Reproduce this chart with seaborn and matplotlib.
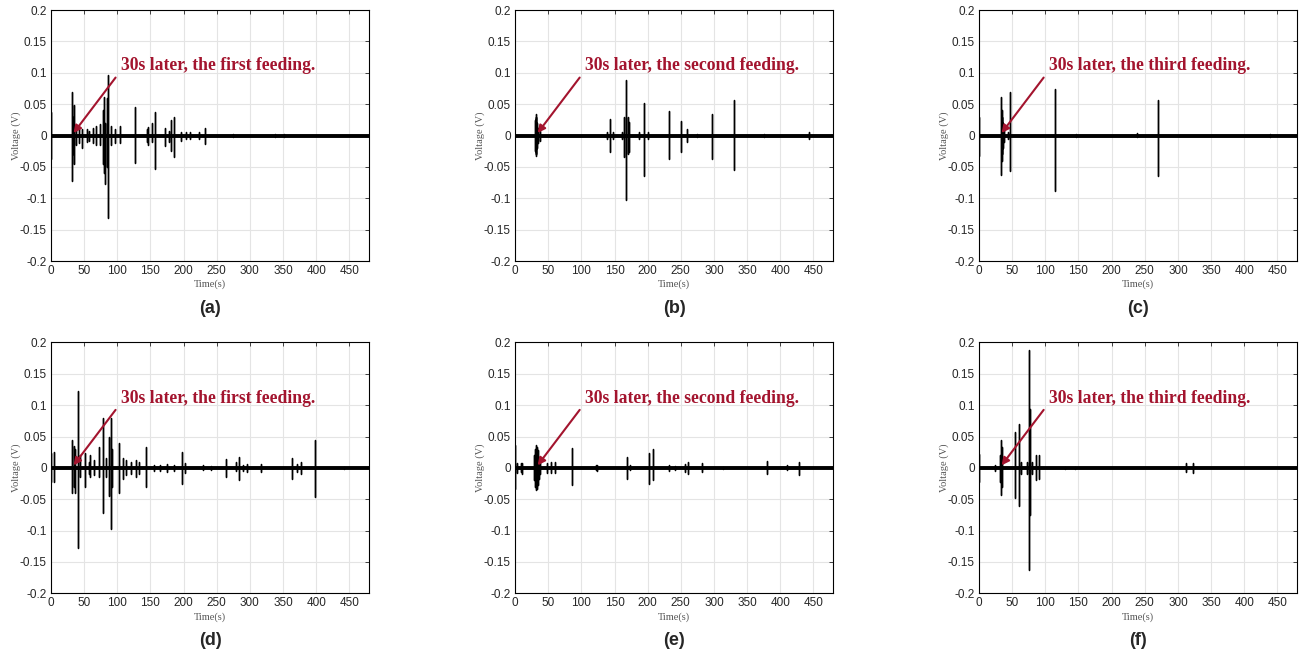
import numpy as np
import pandas as pd
import seaborn as sns
import matplotlib.pyplot as plt

# spike times (s) with peak and trough voltage (V)
t_a = [0, 31.5, 33, 35, 38, 42, 47, 54, 58, 63, 68.5, 73.6, 78, 80, 81.7, 84, 85.8, 90, 96, 103.5,
       127, 144.7, 146.7, 152, 157, 172, 178.7, 181, 186, 195.4, 203, 210, 224, 233, 274, 338, 352]
hi_a = [0.038, 0.069, 0.03, 0.048, 0.012, 0.01, 0.01, 0.01, 0.008, 0.012, 0.015, 0.018, 0.04, 0.062, 0.02, 0.06, 0.097, 0.015, 0.01, 0.015,
        0.045, 0.01, 0.014, 0.02, 0.038, 0.012, 0.008, 0.025, 0.03, 0.006, 0.006, 0.006, 0.005, 0.012, 0.002, 0.002, 0.002]
lo_a = [-0.037, -0.073, -0.03, -0.045, -0.015, -0.012, -0.02, -0.01, -0.008, -0.012, -0.015, -0.015, -0.045, -0.06, -0.078, -0.05, -0.131, -0.015, -0.012, -0.012,
        -0.043, -0.01, -0.015, -0.01, -0.053, -0.017, -0.01, -0.025, -0.034, -0.008, -0.006, -0.006, -0.005, -0.013, -0.002, -0.002, -0.002]

t_b = [30, 31, 32, 33, 35, 37, 138, 142.7, 147, 162, 164.8, 168, 170, 172.4, 187, 195, 200,
       231.7, 251, 260, 274, 296.5, 329.6, 375, 443.7]
hi_b = [0.025, 0.034, 0.03, 0.02, 0.012, 0.008, 0.006, 0.026, 0.005, 0.006, 0.03, 0.089, 0.03, 0.021, 0.006, 0.052, 0.005,
        0.039, 0.023, 0.01, 0.002, 0.035, 0.056, 0.003, 0.005]
lo_b = [-0.025, -0.032, -0.03, -0.02, -0.012, -0.008, -0.006, -0.027, -0.005, -0.006, -0.034, -0.103, -0.03, -0.026, -0.006, -0.065, -0.005,
        -0.038, -0.026, -0.01, -0.002, -0.038, -0.055, -0.003, -0.005]

t_c = [0, 32.7, 34, 35, 36, 38, 43, 47, 114.6, 147, 237.7, 270, 438.2]
hi_c = [0.03, 0.061, 0.04, 0.03, 0.02, 0.01, 0.005, 0.07, 0.074, 0.003, 0.004, 0.057, 0.002]
lo_c = [-0.032, -0.063, -0.04, -0.03, -0.02, -0.01, -0.005, -0.056, -0.088, -0.003, -0.002, -0.064, -0.002]

t_d = [0, 5, 31, 34, 36.5, 41, 44, 52, 57, 59.4, 64.5, 72, 78.7, 83, 87, 90, 92.4, 102.5, 108.6, 113.7, 120,
       129, 133, 143.7, 155, 165, 175, 185, 198, 201.5, 229.4, 241.6, 263.5, 278.7, 283.8, 290.4, 296.4,
       316.8, 363, 371.6, 377, 398, 442.6]
hi_d = [0.024, 0.025, 0.045, 0.035, 0.03, 0.123, 0.02, 0.023, 0.01, 0.02, 0.012, 0.034, 0.079, 0.015, 0.05, 0.079, 0.03, 0.04, 0.015, 0.012, 0.01,
        0.012, 0.01, 0.034, 0.005, 0.005, 0.006, 0.005, 0.026, 0.008, 0.004, 0.003, 0.014, 0.01, 0.018, 0.005, 0.006,
        0.006, 0.015, 0.006, 0.01, 0.045, 0.002]
lo_d = [-0.023, -0.023, -0.04, -0.03, -0.04, -0.127, -0.015, -0.03, -0.01, -0.015, -0.012, -0.014, -0.072, -0.015, -0.045, -0.097, -0.03, -0.04, -0.018, -0.012, -0.01,
        -0.015, -0.01, -0.031, -0.005, -0.005, -0.006, -0.005, -0.026, -0.008, -0.004, -0.003, -0.014, -0.005, -0.019, -0.005, -0.006,
        -0.006, -0.018, -0.006, -0.01, -0.047, -0.002]

t_e = [0, 3.5, 8.5, 11, 29, 30.5, 32, 33.5, 35, 36.5, 38, 48.7, 53.7, 60, 86.4, 121.6, 124, 169.3, 172.9,
       202, 208.5, 232, 240.7, 255.8, 261.3, 282.4, 314, 380.4, 409.5, 428]
hi_e = [0.037, 0.008, 0.007, 0.008, 0.02, 0.03, 0.036, 0.034, 0.028, 0.018, 0.01, 0.008, 0.01, 0.009, 0.031, 0.004, 0.005, 0.017, 0.004,
        0.023, 0.03, 0.005, 0.003, 0.006, 0.01, 0.007, 0.002, 0.011, 0.004, 0.01]
lo_e = [-0.034, -0.008, -0.007, -0.01, -0.02, -0.03, -0.036, -0.034, -0.028, -0.018, -0.01, -0.008, -0.008, -0.008, -0.027, -0.004, -0.005, -0.017, -0.004,
        -0.025, -0.02, -0.005, -0.003, -0.006, -0.01, -0.007, -0.002, -0.01, -0.004, -0.011]

t_f = [0, 23.6, 31, 33, 35, 53.8, 59.8, 62.8, 72.4, 75.4, 77, 79.4, 85.4, 90, 129, 144, 312, 322]
hi_f = [0.022, 0.005, 0.021, 0.044, 0.034, 0.057, 0.07, 0.01, 0.01, 0.188, 0.094, 0.01, 0.02, 0.02, 0.002, 0.002, 0.007, 0.008]
lo_f = [-0.022, -0.005, -0.023, -0.044, -0.03, -0.048, -0.06, -0.01, -0.01, -0.163, -0.075, -0.01, -0.019, -0.017, -0.002, -0.002, -0.006, -0.008]

panels = [(t_a, hi_a, lo_a, 'first', '(a)'), (t_b, hi_b, lo_b, 'second', '(b)'), (t_c, hi_c, lo_c, 'third', '(c)'),
          (t_d, hi_d, lo_d, 'first', '(d)'), (t_e, hi_e, lo_e, 'second', '(e)'), (t_f, hi_f, lo_f, 'third', '(f)')]

red = '#A3142E'
sns.set_style('white')

fig = plt.figure(figsize=(13, 6.53), dpi=100)
lefts = [0.0392, 0.3962, 0.7531]
bottoms = [0.6003, 0.0914]

yt = [-0.2, -0.15, -0.1, -0.05, 0, 0.05, 0.1, 0.15, 0.2]
ytl = ['-0.2', '-0.15', '-0.1', '-0.05', '0', '0.05', '0.1', '0.15', '0.2']

for i, (t, hi, lo, nth, lab) in enumerate(panels):
    ax = fig.add_axes([lefts[i % 3], bottoms[i // 3], 0.2448, 0.3842])
    # zig-zag each spike: 0 -> peak -> trough -> 0 at the same time
    xs, ys = [], []
    for tt, h, l in zip(t, hi, lo):
        xs += [tt, tt, tt, tt]
        ys += [0, h, l, 0]
    df = pd.DataFrame({'time': xs, 'volt': ys})
    ax.axhline(0, color='black', lw=2.8, zorder=2)
    sns.lineplot(data=df, x='time', y='volt', sort=False, estimator=None,
                 color='black', lw=1.0, ax=ax, zorder=3)

    ax.set_xlim(0, 480)
    ax.set_ylim(-0.2, 0.2)
    ax.set_xticks(np.arange(0, 451, 50))
    ax.set_yticks(yt)
    ax.set_yticklabels(ytl)
    ax.grid(True, color='#e4e4e4', lw=0.8)
    ax.set_axisbelow(True)
    ax.tick_params(direction='in', length=3, width=0.6, top=True, right=True,
                   labelsize=8.5, colors='#262626', pad=3)
    for s in ax.spines.values():
        s.set_color('black')
        s.set_linewidth(0.8)
    ax.set_xlabel('Time(s)', family='Liberation Serif', fontsize=7.5, color='#555555')
    ax.set_ylabel('Voltage (V)', family='Liberation Serif', fontsize=7.5, color='#555555')
    ax.xaxis.set_label_coords(0.5, -0.075)
    ax.yaxis.set_label_coords(-0.095, 0.5)
    for tl in ax.get_xticklabels() + ax.get_yticklabels():
        tl.set_family('Liberation Sans')

    ax.annotate('', xy=(31.5, 0.0005), xytext=(100, 0.096),
                arrowprops=dict(arrowstyle='-|>', color=red, lw=1.5, mutation_scale=11), zorder=5)
    ax.text(105, 0.111, '30s later, the %s feeding.' % nth, family='Liberation Serif',
            fontweight='bold', fontsize=12.7, color=red, va='center', ha='left', zorder=6)
    ax.text(0.5, -0.19, lab, transform=ax.transAxes, ha='center', va='center',
            family='Liberation Sans', fontweight='bold', fontsize=13)

fig.savefig('out.png', dpi=100)
